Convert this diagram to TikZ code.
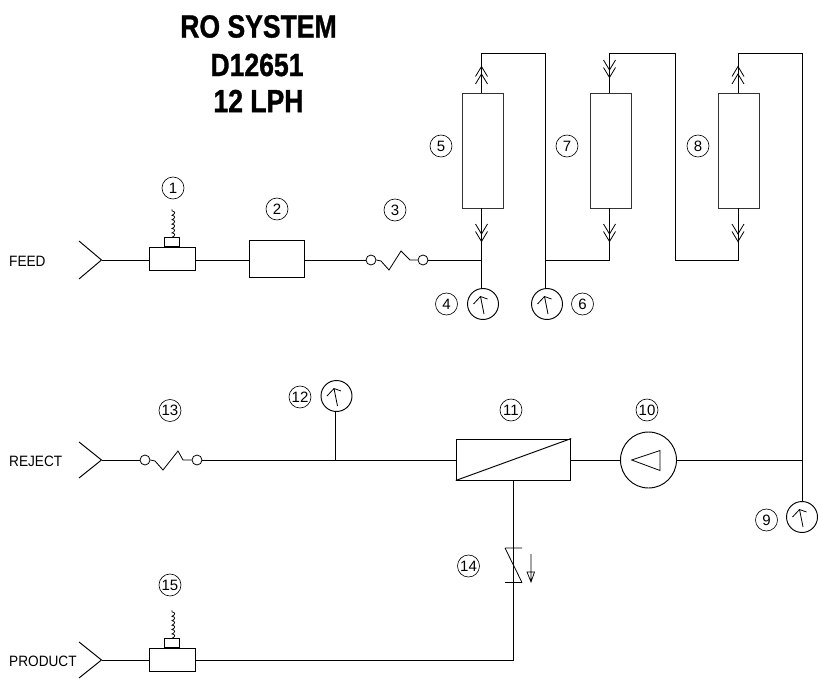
\documentclass[tikz,border=0pt]{standalone}
\usepackage{fontspec}
\setmainfont{Liberation Sans}
\newfontfamily\titlefont[BoldFeatures={FakeBold=1.2}]{Liberation Sans}
\tikzset{
  pipe/.style={line width=0.95pt,black},
  unit/.style={draw,line width=0.95pt,inner sep=0pt,rectangle},
  vessel/.style={unit,minimum width=41pt,minimum height=115pt,draw=black!80},
  gauge/.style={draw,circle,line width=0.95pt,minimum size=31pt,inner sep=0pt},
  tagc/.style={draw,circle,line width=0.65pt,minimum size=22pt,inner sep=0pt,font=\fontsize{15}{15}\selectfont},
  port/.style={anchor=west,inner sep=0pt,font=\fontsize{15}{15}\selectfont,xscale=.91,transform shape},
  ttl/.style={inner sep=0pt,font=\titlefont\bfseries\fontsize{32}{32}\selectfont,xscale=.83,transform shape},
  hole/.style={draw,circle,line width=0.8pt,minimum size=10pt,inner sep=0pt},
  pics/upchev/.style={code={
    \draw[pipe,line width=0.8pt] (-6,4.5)--(0,-5.5)--(6,4.5) (-6,12)--(0,2)--(6,12);}},
  pics/dnchev/.style={code={
    \draw[pipe,line width=0.8pt] (-6,-4.5)--(0,5.5)--(6,-4.5) (-6,-12)--(0,-2)--(6,-12);}},
  pics/needle/.style={code={
    \draw[line width=0.8pt] (1,10)--(-2.5,-7.5) (-9.5,0)--(-2.5,-7.5)--(4.5,-5);}},
  pics/spring/.style={code={
    \draw[line width=0.75pt] (0,0)
      \foreach \k in {0,1,2,3,4,5}{ .. controls (3.5,-1.5-\k*4.4) and (3.5,-4-\k*4.4) .. (0,-4.4-\k*4.4)}
      -- (0,-28);}},
}
\begin{document}
\begin{tikzpicture}[x=1pt,y=-1pt]
\useasboundingbox (0,0) rectangle (822,679);
% title
\node[ttl] (t1) at (258.5,26.5) {RO SYSTEM};
\node[ttl] (t2) at (257,65) {D12651};
\node[ttl] (t3) at (258.5,101) {12 LPH};
% port labels
\node[port] (lfeed) at (9,261) {FEED};
\node[port] (lrej) at (9,461) {REJECT};
\node[port] (lprod) at (9,661) {PRODUCT};
% port tips
\coordinate (pf) at (101.5,260); \coordinate (pfa) at (79,241); \coordinate (pfb) at (79,279);
\coordinate (pr) at (101.5,460); \coordinate (pra) at (79,442); \coordinate (prb) at (79,478);
\coordinate (pp) at (101.5,660); \coordinate (ppa) at (79,642); \coordinate (ppb) at (79,678);
\draw[pipe] (pfa)--(pf)--(pfb) (pra)--(pr)--(prb) (ppa)--(pp)--(ppb);
% units
\node[unit,minimum width=46pt,minimum height=23.5pt] (u1) at (172,259) {};
\node[unit,minimum width=14.5pt,minimum height=8.5pt,anchor=south] (u1s) at (u1.north) {};
\pic at (u1s.north) {spring};
\node[unit,minimum width=55pt,minimum height=37.5pt] (u2) at (276.5,259) {};
\node[vessel] (v5) at (482.5,150.5) {};
\node[vessel] (v7) at (610.5,150.5) {};
\node[vessel] (v8) at (738.5,150.5) {};
\node[unit,minimum width=114.5pt,minimum height=41pt] (u11) at (513.5,459.5) {};
\draw[pipe] (u11.south west)--(u11.north east);
\node[gauge,minimum size=56pt] (u10) at (648.5,460) {};
\draw[pipe,line width=0.8pt] (631.7,460)--(660,450.5)--(660,470.5)--cycle;
\node[unit,minimum width=46pt,minimum height=23.5pt] (u15) at (172,660) {};
\node[unit,minimum width=14.5pt,minimum height=8.5pt,anchor=south] (u15s) at (u15.north) {};
\pic at (u15s.north) {spring};
% gauges
\node[gauge] (g4) at (483,304) {};  \pic at (g4.center) {needle};
\node[gauge] (g6) at (547,304) {};  \pic at (g6.center) {needle};
\node[gauge] (g9) at (802,517) {};  \pic at (g9.center) {needle};
\node[gauge] (g12) at (336.5,396) {}; \pic at (g12.center) {needle};
% check valve holes
\node[hole] (c3a) at (371,260) {};
\node[hole] (c3b) at (423,260) {};
\node[hole] (c13a) at (145,460) {};
\node[hole] (c13b) at (197,460) {};
\draw[pipe,line width=0.8pt] (c3a.east)--(381,261)--(389,270)--(401,251)--(410,260)--(c3b.west);
\draw[pipe,line width=0.8pt] (c13a.east)--(155,461)--(163,470)--(178,451)--(183,460)--(c13b.west);
% junctions
\coordinate (j4) at (481.5,260);
\coordinate (j6) at (545.5,260);
\coordinate (j7) at (609.5,260);
\coordinate (j7b) at (675.5,260);
\coordinate (j8) at (738,260);
\coordinate (j9) at (802,460);
\coordinate (j12) at (335.5,460);
\coordinate (t5) at (481.5,53); \coordinate (t6) at (545.5,53);
\coordinate (t7) at (609.5,53); \coordinate (t7b) at (675.5,53);
\coordinate (t8) at (738,53); \coordinate (t9) at (802,53);
\coordinate (k14e) at (513.5,660);
% pipes
\draw[pipe] (pf)--(u1.west|-pf);
\draw[pipe] (u1.east|-pf)--(u2.west|-pf);
\draw[pipe] (u2.east|-pf)--(c3a.west);
\draw[pipe] (c3b.east)--(j4);
\draw[pipe] (j4)--(g4.north-|j4);
\draw[pipe] (j4)--(v5.south-|j4);
\draw[pipe] (v5.north-|t5)--(t5)--(t6)--(g6.north-|t6);
\draw[pipe] (j6)--(j7)--(v7.south-|j7);
\draw[pipe] (v7.north-|t7)--(t7)--(t7b)--(j7b)--(j8)--(v8.south-|j8);
\draw[pipe] (v8.north-|t8)--(t8)--(t9)--(g9.north-|t9);
\draw[pipe] (j9)--(u10.east|-j9);
\draw[pipe] (u10.west|-j9)--(u11.east|-j9);
\draw[pipe] (u11.west|-j9)--(j12);
\draw[pipe] (j12)--(g12.south-|j12);
\draw[pipe] (j12)--(c13b.east);
\draw[pipe] (c13a.west)--(pr);
\draw[pipe] (u11.south)--(k14e)--(u15.east|-k14e);
\draw[pipe] (u15.west|-pp)--(pp);
% chevrons
\pic at (481.5,72) {upchev};
\pic at (738,72) {upchev};
\pic at (609.5,72) {dnchev};
\pic at (481.5,236) {dnchev};
\pic at (609.5,236) {dnchev};
\pic at (738,236) {dnchev};
% valve 14
\draw[pipe,line width=0.8pt] (505,548)--(522,548) (505,582.5)--(522,582.5) (505,548)--(522,582.5);
\draw[pipe,line width=0.75pt] (531,554)--(531,582) (527,572)--(531,582)--(534.5,572)--cycle;
% tags
\node[tagc] (n1) at (173,188) {1};
\node[tagc] (n2) at (277,209) {2};
\node[tagc] (n3) at (395,210) {3};
\node[tagc] (n4) at (446.5,304) {4};
\node[tagc] (n5) at (441,146) {5};
\node[tagc] (n6) at (582.5,304) {6};
\node[tagc] (n7) at (567,146) {7};
\node[tagc] (n8) at (698,146) {8};
\node[tagc] (n9) at (766.5,520) {9};
\node[tagc] (n10) at (647,410) {10};
\node[tagc] (n11) at (511,410) {11};
\node[tagc] (n12) at (300,397) {12};
\node[tagc] (n13) at (170,410.5) {13};
\node[tagc] (n14) at (468.5,566) {14};
\node[tagc] (n15) at (170,585) {15};
\end{tikzpicture}
\end{document}
